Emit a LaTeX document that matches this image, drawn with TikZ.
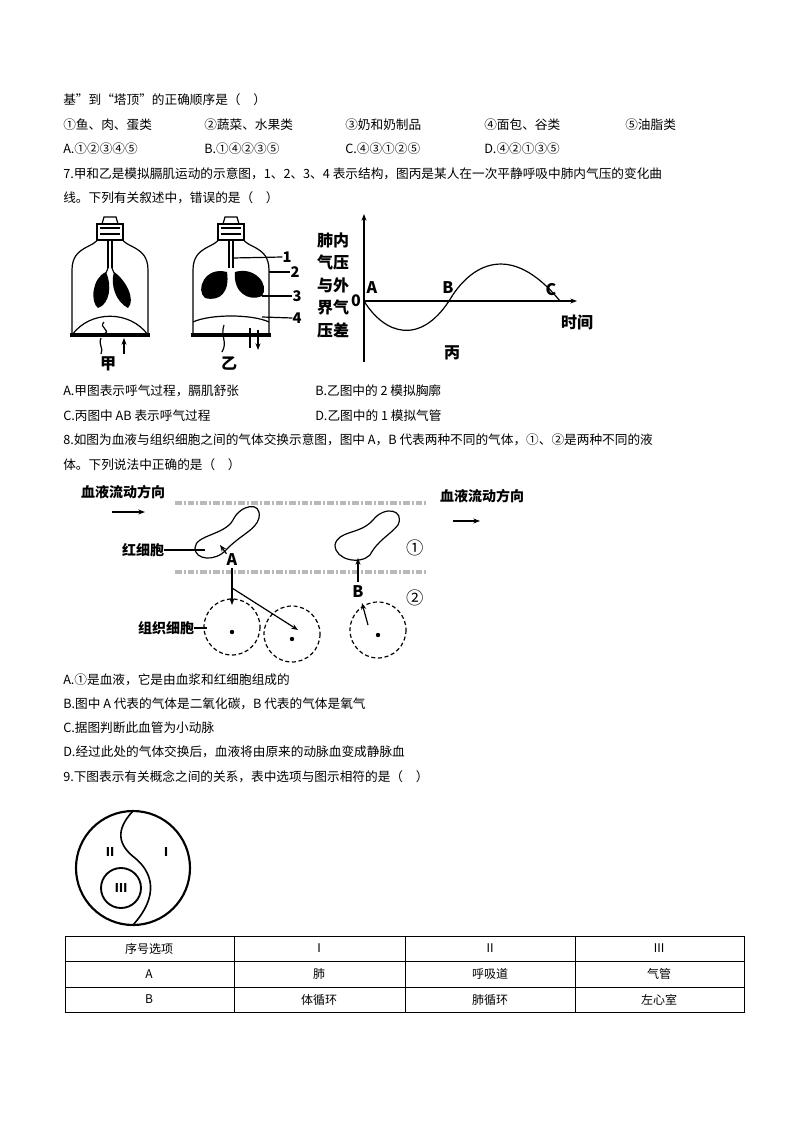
\documentclass[tikz,border=0pt]{standalone}
\usepackage{fontspec}
\setmainfont{Noto Sans CJK SC}
\usetikzlibrary{arrows.meta}
\begin{document}
\begin{tikzpicture}[x=0.75pt,y=-0.75pt,
  tx/.style={anchor=west,inner sep=0,font=\fontsize{9.5pt}{11pt}\selectfont},
  fig/.style={inner sep=0,font=\fontsize{12pt}{13pt}\selectfont\bfseries},
  ln/.style={line width=0.9pt},
  arr/.style={ln,-{Stealth[length=5pt]}},
  wall/.style={line width=3pt,gray!55,dash pattern=on 5pt off 1.5pt on 1.5pt off 1.5pt}]
\useasboundingbox (0,0) rectangle (794,1123);
% text lines
\node[tx] (t1) at (63,100) {基”到“塔顶”的正确顺序是（\quad ）};
\node[tx] (o1) at (63,125) {①鱼、肉、蛋类};
\node[tx] (o2) at (204,125) {②蔬菜、水果类};
\node[tx] (o3) at (345,125) {③奶和奶制品};
\node[tx] (o4) at (484,125) {④面包、谷类};
\node[tx] (o5) at (625,125) {⑤油脂类};
\node[tx] (a1) at (63,149) {A.①②③④⑤};
\node[tx] (b1) at (204,149) {B.①④②③⑤};
\node[tx] (c1) at (345,149) {C.④③①②⑤};
\node[tx] (d1) at (484,149) {D.④②①③⑤};
\node[tx] (q7) at (63,174) {7.甲和乙是模拟膈肌运动的示意图，1、2、3、4 表示结构，图丙是某人在一次平静呼吸中肺内气压的变化曲};
\node[tx] (q7b) at (63,198) {线。下列有关叙述中，错误的是（\quad ）};
\node[tx] (a7) at (63,391) {A.甲图表示呼气过程，膈肌舒张};
\node[tx] (b7) at (315,391) {B.乙图中的 2 模拟胸廓};
\node[tx] (c7) at (63,416) {C.丙图中 AB 表示呼气过程};
\node[tx] (d7) at (315,416) {D.乙图中的 1 模拟气管};
\node[tx] (q8) at (63,440) {8.如图为血液与组织细胞之间的气体交换示意图，图中 A，B 代表两种不同的气体，①、②是两种不同的液};
\node[tx] (q8b) at (63,465) {体。下列说法中正确的是（\quad ）};
\node[tx] (a8) at (63,680) {A.①是血液，它是由血浆和红细胞组成的};
\node[tx] (b8) at (63,704) {B.图中 A 代表的气体是二氧化碳，B 代表的气体是氧气};
\node[tx] (c8) at (63,728) {C.据图判断此血管为小动脉};
\node[tx] (d8) at (63,752) {D.经过此处的气体交换后，血液将由原来的动脉血变成静脉血};
\node[tx] (q9) at (63,777) {9.下图表示有关概念之间的关系，表中选项与图示相符的是（\quad ）};
% bell jars
\foreach \cx/\lab in {110/甲,231/乙}{
  \draw[ln] (\cx-38,335) -- (\cx-38,270) .. controls (\cx-38,245) and (\cx-14,248) .. (\cx-12,238)
     -- (\cx+12,238) .. controls (\cx+14,248) and (\cx+38,245) .. (\cx+38,270) -- (\cx+38,335);
  \draw[line width=3pt] (\cx-40,335) -- (\cx+40,335);
  \draw[ln,fill=white] (\cx-13,224) rectangle (\cx+13,240);
  \draw[ln] (\cx-10,228) -- (\cx+10,228) (\cx-10,234)--(\cx+10,234);
  \draw[ln] (\cx-8,224) -- (\cx-6,217) -- (\cx+6,217) -- (\cx+8,224);
  \draw[ln] (\cx-2,240) -- (\cx-2,268) (\cx+2,240) -- (\cx+2,268);
  \node[fig] at (\cx-2,364) {\lab};
}
% lungs jia
\fill (106,272) .. controls (92,278) and (90,302) .. (98,308) .. controls (110,304) and (112,285) .. (106,272);
\fill (114,272) .. controls (126,280) and (136,300) .. (128,308) .. controls (116,302) and (110,285) .. (114,272);
\draw[ln] (108,268) -- (106,273) (112,268) -- (114,273);
\draw[ln] (72,335) .. controls (90,310) and (130,310) .. (148,335);
\draw[ln] (104,322) .. controls (98,328) and (112,330) .. (104,334);
\draw[ln] (101,338) .. controls (98,345) and (104,348) .. (101,354);
\draw[arr] (124,354) -- (124,338);
% lungs yi
\fill (227,272) .. controls (205,266) and (195,290) .. (205,298) .. controls (220,302) and (230,292) .. (227,272);
\fill (235,272) .. controls (255,266) and (270,285) .. (262,296) .. controls (248,302) and (233,292) .. (235,272);
\draw[ln] (193,322) .. controls (210,314) and (252,314) .. (269,322);
\draw[ln] (224,325) .. controls (220,336) and (228,342) .. (222,352);
\draw[ln] (250,328) -- (250,348);
\draw[arr] (258,330) -- (258,350);
% leader lines
\tikzset{num/.style={fig,font=\fontsize{11pt}{12pt}\selectfont\bfseries}}
\node[num] (n1) at (287,257) {1};
\node[num] (n2) at (295,272) {2};
\node[num] (n3) at (297,296) {3};
\node[num] (n4) at (297,318) {4};
\draw[ln] (233,258) -- (n1.west);
\draw[ln] (269,272) -- (n2.west);
\draw[ln] (262,296) -- (n3.west);
\draw[ln] (262,317) -- (n4.west);
% graph
\coordinate (o) at (364,301);
\draw[arr] (364,362) -- (364,214);
\draw[arr] (o) -- (577,301);
\node[fig] at (356,301) {0};
\node[fig] at (372,288) {A};
\node[fig] at (448,288) {B};
\node[fig] at (551,290) {C};
\node[fig] at (577,322) {时间};
\node[fig] at (452,353) {丙};
\foreach \t/\yy in {肺内/240,气压/262,与外/285,界气/307,压差/330} \node[fig] at (333,\yy) {\t};
\draw[ln] (o) .. controls (385,335) and (420,345) .. (449,301) .. controls (470,265) and (510,240) .. (560,301);
% blood figure
\node[fig,font=\fontsize{10.5pt}{12pt}\selectfont\bfseries] at (123,492) {血液流动方向};
\draw[arr] (112,512) -- (145,512);
\node[fig,font=\fontsize{10.5pt}{12pt}\selectfont\bfseries] at (482,496) {血液流动方向};
\draw[arr] (453,521) -- (480,521);
\draw[wall] (175,503) -- (428,503);
\draw[wall] (175,572) -- (428,572);
\draw[ln] (233,520) .. controls (240,505) and (262,500) .. (259,518) .. controls (256,530) and (240,535) .. (226,550) .. controls (215,562) and (195,560) .. (195,548) .. controls (195,535) and (225,535) .. (233,520);
\draw[ln] (373,520) .. controls (385,505) and (405,510) .. (398,525) .. controls (390,535) and (378,540) .. (370,555) .. controls (360,565) and (335,560) .. (335,545) .. controls (338,530) and (360,535) .. (373,520);
\node[fig,font=\fontsize{10.5pt}{12pt}\selectfont\bfseries] (rbc) at (143,550) {红细胞};
\draw[ln] (rbc.east) -- (205,550);
\node[fig] (A) at (232,560) {A};
\draw[arr] (A.north west) -- (220,545);
\draw[arr] (232,568) -- (232,605);
\draw[arr] (232,588) -- (298,630);
\node[fig] (B) at (358,592) {B};
\draw[arr] (358,582) -- (358,558);
\draw[arr] (368,625) -- (362,603);
\node[fig,font=\fontsize{13pt}{14pt}\selectfont] at (415,548) {①};
\node[fig,font=\fontsize{13pt}{14pt}\selectfont] at (415,598) {②};
\foreach \xx/\yy in {232/627,292/634,378/630}{
  \draw[ln,densely dashed] (\xx,\yy) circle (28);
  \fill (\xx,\yy+5) circle (2.2);
}
\node[fig,font=\fontsize{10.5pt}{12pt}\selectfont\bfseries] (tis) at (166,628) {组织细胞};
\draw[ln] (tis.east) -- (207,628);
% circle figure
\draw[line width=1.6pt] (133,868) circle (57);
\draw[line width=1.2pt] (133,811) .. controls (115,830) and (118,845) .. (135,858) .. controls (152,872) and (160,895) .. (133,925);
\draw[line width=1.4pt] (121,888) circle (20);
\node[fig,font=\fontsize{9pt}{10pt}\selectfont\bfseries] at (110,852) {Ⅱ};
\node[fig,font=\fontsize{9pt}{10pt}\selectfont\bfseries] at (166,852) {Ⅰ};
\node[fig,font=\fontsize{9pt}{10pt}\selectfont\bfseries] at (121,888) {Ⅲ};
% table
\draw[line width=0.6pt] (65,936) rectangle (744,1012);
\draw[line width=0.6pt] (65,961) -- (744,961) (65,987) -- (744,987)
  (234,936) -- (234,1012) (405,936) -- (405,1012) (575,936) -- (575,1012);
\tikzset{tc/.style={inner sep=0,font=\fontsize{9pt}{10pt}\selectfont}}
\node[tc] at (149,948.5) {序号选项};
\node[tc] at (319,948.5) {Ⅰ};
\node[tc] at (490,948.5) {Ⅱ};
\node[tc] at (659,948.5) {Ⅲ};
\node[tc] at (149,974) {A};
\node[tc] at (319,974) {肺};
\node[tc] at (490,974) {呼吸道};
\node[tc] at (659,974) {气管};
\node[tc] at (149,999.5) {B};
\node[tc] at (319,999.5) {体循环};
\node[tc] at (490,999.5) {肺循环};
\node[tc] at (659,999.5) {左心室};
\end{tikzpicture}
\end{document}
